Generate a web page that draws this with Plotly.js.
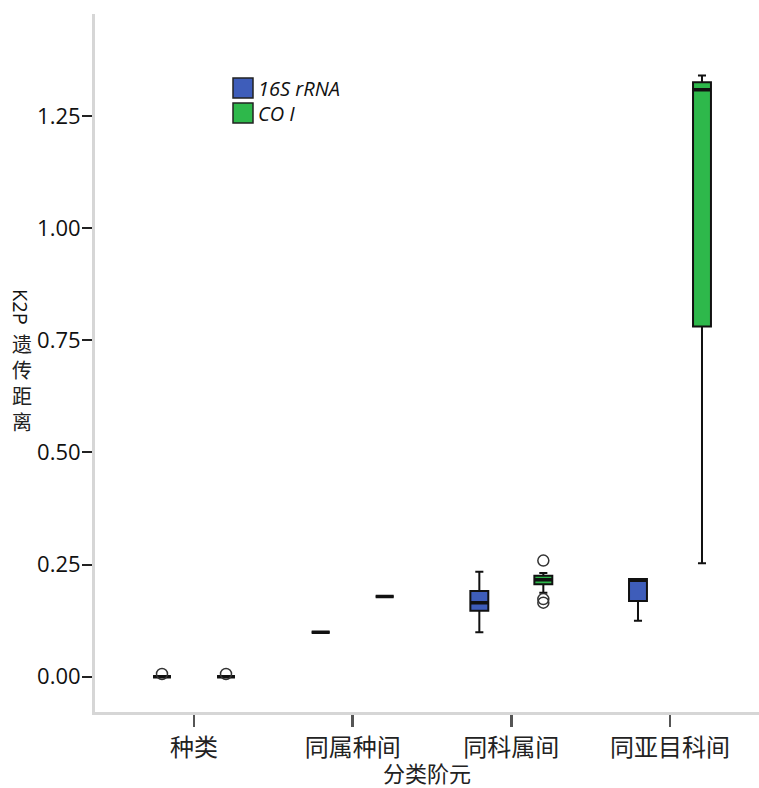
<!DOCTYPE html>
<html>
<head>
<meta charset="utf-8">
<script src="https://cdn.plot.ly/plotly-3.0.1.min.js"></script>
<style>html,body{margin:0;padding:0;background:#fff;}#chart{width:759px;height:788px;}</style>
</head>
<body>
<div id="chart"></div>
<script>
// ---- data ----
const categories = ['种类', '同属种间', '同科属间', '同亚目科间'];
const seriesNames = ['16S rRNA', 'CO I'];

const s16_q1     = [0, 0.099, 0.147, 0.169];
const s16_median = [0, 0.099, 0.165, 0.215];
const s16_q3     = [0, 0.099, 0.191, 0.218];
const s16_lower  = [0, 0.099, 0.099, 0.125];
const s16_upper  = [0, 0.099, 0.234, 0.218];
const s16_outCat = [0];
const s16_outVal = [0.006];

const coi_q1     = [0, 0.179, 0.206, 0.781];
const coi_median = [0, 0.179, 0.216, 1.309];
const coi_q3     = [0, 0.179, 0.225, 1.326];
const coi_lower  = [0, 0.179, 0.187, 0.253];
const coi_upper  = [0, 0.179, 0.231, 1.341];
const coi_outCat = [0, 2, 2, 2];
const coi_outVal = [0.006, 0.259, 0.173, 0.165];

const yTicks = [0, 0.25, 0.5, 0.75, 1.0, 1.25];

// ---- styling / layout helpers ----
const W = 759, H = 788, ML = 95, MR = 0, MT = 14, MB = 76;
const px2x = px => (px - ML) / (W - ML - MR);
const py2y = py => (H - MB - py) / (H - MT - MB);
const OFF = 0.2017, BW = 0.113;
const BLUE = '#3E5DBA', GREEN = '#2EB84B';

function boxTrace(pos, q1, med, q3, lo, up, fill) {
  return {type: 'box', x: pos, q1: q1, median: med, q3: q3, lowerfence: lo, upperfence: up,
    width: BW, fillcolor: fill, line: {color: '#111', width: 2}, whiskerwidth: 0.45,
    boxpoints: false, hoverinfo: 'skip', showlegend: false};
}
function medTrace(pos, med) {
  return {type: 'box', x: pos, q1: med, median: med, q3: med, lowerfence: med, upperfence: med,
    width: BW, fillcolor: 'rgba(0,0,0,0)', line: {color: '#111', width: 3.5}, whiskerwidth: 0,
    boxpoints: false, hoverinfo: 'skip', showlegend: false};
}
function outTrace(cats, vals, off) {
  return {type: 'scatter', mode: 'markers', x: cats.map(i => i + off), y: vals,
    marker: {symbol: 'circle-open', size: 11, color: '#333', line: {width: 1.5}},
    hoverinfo: 'skip', showlegend: false, cliponaxis: false};
}

const x16 = categories.map((c, i) => i - OFF);
const xco = categories.map((c, i) => i + OFF);

const data = [
  boxTrace(x16, s16_q1, s16_median, s16_q3, s16_lower, s16_upper, BLUE),
  boxTrace(xco, coi_q1, coi_median, coi_q3, coi_lower, coi_upper, GREEN),
  outTrace(s16_outCat, s16_outVal, -OFF),
  outTrace(coi_outCat, coi_outVal, OFF),
  medTrace(x16, s16_median),
  medTrace(xco, coi_median)
];

const tickFont = {family: 'Open Sans, Liberation Sans, sans-serif', size: 22, color: '#111'};
const cjkFont = {family: 'Noto Sans CJK SC, sans-serif', size: 24, color: '#222'};

const layout = {
  width: W, height: H,
  margin: {l: ML, r: MR, t: MT, b: MB},
  paper_bgcolor: '#fff', plot_bgcolor: '#fff',
  showlegend: false,
  xaxis: {
    range: [-0.624, 3.561], tickvals: [0, 1, 2, 3], ticktext: categories,
    showgrid: false, zeroline: false, showline: true, linecolor: '#d6d6d6', linewidth: 3,
    ticks: 'outside', ticklen: 12, tickwidth: 2.5, tickcolor: '#555', tickfont: cjkFont
  },
  yaxis: {
    range: [-0.0788, 1.478], tickvals: yTicks, tickformat: '.2f',
    showgrid: false, zeroline: false, showline: true, linecolor: '#d6d6d6', linewidth: 3,
    ticks: 'outside', ticklen: 10, tickwidth: 2, tickcolor: '#222', tickfont: tickFont,
    ticklabelstandoff: -3
  },
  shapes: [
    {type: 'rect', xref: 'paper', yref: 'paper', x0: px2x(233), x1: px2x(253), y0: py2y(98), y1: py2y(78),
      fillcolor: BLUE, line: {color: '#222', width: 1.5}},
    {type: 'rect', xref: 'paper', yref: 'paper', x0: px2x(233), x1: px2x(253), y0: py2y(123), y1: py2y(103),
      fillcolor: GREEN, line: {color: '#222', width: 1.5}}
  ],
  annotations: [
    {xref: 'paper', yref: 'paper', x: px2x(256), y: py2y(88), xanchor: 'left', yanchor: 'middle',
      text: '<i>' + seriesNames[0] + '</i>', showarrow: false,
      font: {family: 'Open Sans, sans-serif', size: 20, color: '#111'}},
    {xref: 'paper', yref: 'paper', x: px2x(256), y: py2y(113), xanchor: 'left', yanchor: 'middle',
      text: '<i>' + seriesNames[1] + '</i>', showarrow: false,
      font: {family: 'Open Sans, sans-serif', size: 20, color: '#111'}},
    {xref: 'paper', yref: 'paper', x: px2x(21), y: py2y(307), xanchor: 'center', yanchor: 'middle',
      text: 'K2P', textangle: 90, showarrow: false,
      font: {family: 'Open Sans, sans-serif', size: 20, color: '#111'}},
    {xref: 'paper', yref: 'paper', x: px2x(22), y: py2y(383), xanchor: 'center', yanchor: 'middle',
      text: '遗<br>传<br>距<br>离', showarrow: false,
      font: {family: 'Noto Sans CJK SC, sans-serif', size: 20, color: '#222'}},
    {xref: 'paper', yref: 'paper', x: 0.5, y: py2y(772), xanchor: 'center', yanchor: 'middle',
      text: '分类阶元', showarrow: false,
      font: {family: 'Noto Sans CJK SC, sans-serif', size: 22, color: '#222'}}
  ]
};

Plotly.newPlot('chart', data, layout, {displayModeBar: false, staticPlot: true});
</script>
</body>
</html>
